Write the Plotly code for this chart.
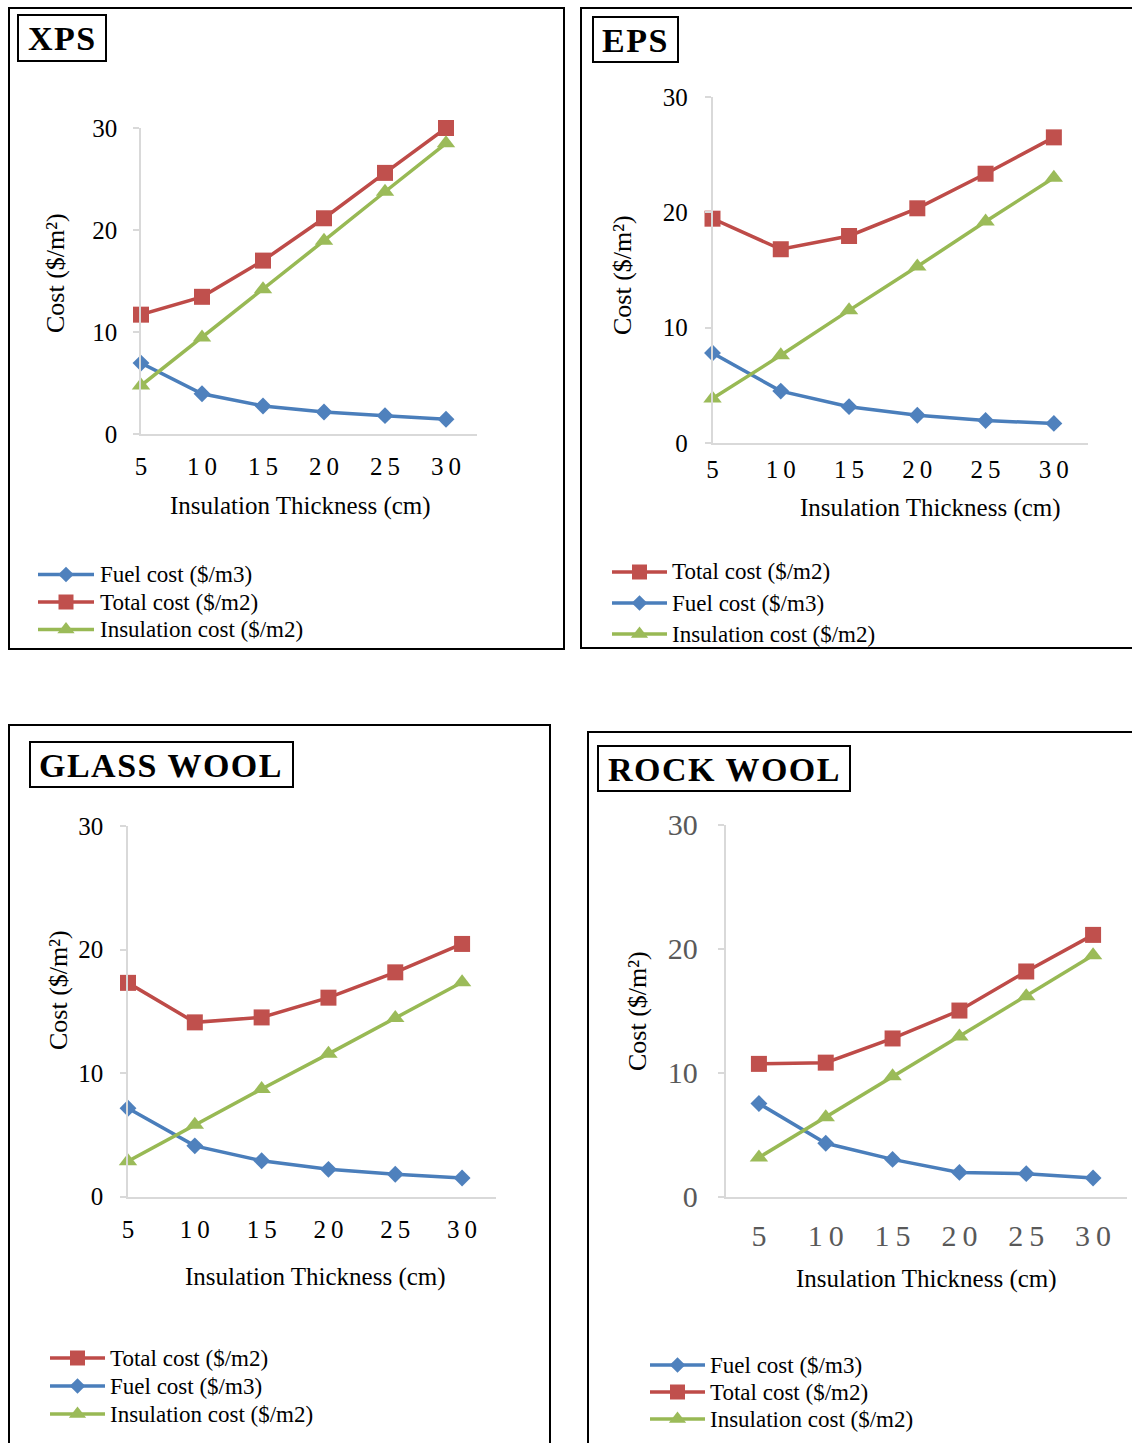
import plotly.graph_objects as go

W, H = 1132, 1443
SERIF = "Liberation Serif"

# ---------------- data ----------------
thickness = [5, 10, 15, 20, 25, 30]
thickness_labels = ["5", "1\u20090", "1\u20095", "2\u20090", "2\u20095", "3\u20090"]
cost_ticks = [0, 10, 20, 30]

xps_fuel = [6.95, 3.95, 2.75, 2.15, 1.8, 1.45]
xps_total = [11.7, 13.45, 17.0, 21.15, 25.6, 30.0]
xps_insulation = [4.75, 9.45, 14.2, 18.95, 23.75, 28.5]

eps_fuel = [7.8, 4.5, 3.15, 2.4, 1.95, 1.7]
eps_total = [19.45, 16.8, 17.95, 20.35, 23.35, 26.5]
eps_insulation = [3.85, 7.6, 11.5, 15.3, 19.2, 23.0]

glass_fuel = [7.15, 4.1, 2.9, 2.2, 1.8, 1.5]
glass_total = [17.3, 14.1, 14.5, 16.1, 18.15, 20.45]
glass_insulation = [2.85, 5.8, 8.7, 11.55, 14.45, 17.35]

rock_fuel = [7.5, 4.3, 3.0, 1.95, 1.85, 1.5]
rock_total = [10.7, 10.8, 12.75, 15.0, 18.15, 21.1]
rock_insulation = [3.15, 6.4, 9.7, 12.9, 16.15, 19.45]

series_names = {
    "fuel": "Fuel cost ($/m3)",
    "total": "Total cost ($/m2)",
    "insulation": "Insulation cost ($/m2)",
}

# ---------------- styles ----------------
STYLE = {
    "fuel": dict(line="#4A7EBB", fill="#4F81BD", symbol="diamond", size=13),
    "total": dict(line="#BE4B48", fill="#C0504D", symbol="square", size=16),
    "insulation": dict(line="#98B954", fill="#9BBB59", symbol="triangle-up", size=16),
}
AXIS_GREY = "#D9D9D9"


def px_x(v):
    return v / W


def px_y(v):
    return 1 - v / H


panels = [
    dict(title="XPS", data=dict(fuel=xps_fuel, total=xps_total, insulation=xps_insulation),
         legend=["fuel", "total", "insulation"],
         frame=(9, 8, 564, 649), tbox=(18, 15, 106, 61),
         xpx=(141, 476.5), ypx=(128, 434), xrange=(5, 32.5),
         tick_size=25, tick_color="#000000", ystand=11, xstand=9,
         xtitle=(300, 506), ytitle=(55, 273),
         leg_x=(38, 94, 98), leg_y=(574.5, 602, 629.5)),
    dict(title="EPS", data=dict(fuel=eps_fuel, total=eps_total, insulation=eps_insulation),
         legend=["total", "fuel", "insulation"],
         frame=(581, 8, 1140, 648), tbox=(593, 17, 678, 62),
         xpx=(712.5, 1088), ypx=(97, 443), xrange=(5, 32.5),
         tick_size=25, tick_color="#000000", ystand=12, xstand=3,
         xtitle=(930, 508), ytitle=(622, 275),
         leg_x=(612, 667, 670), leg_y=(572, 603, 634)),
    dict(title="GLASS WOOL", data=dict(fuel=glass_fuel, total=glass_total, insulation=glass_insulation),
         legend=["total", "fuel", "insulation"],
         frame=(9, 725, 550, 1450), tbox=(30, 742, 293, 787),
         xpx=(128, 495.5), ypx=(826, 1196.5), xrange=(5, 32.5),
         tick_size=25, tick_color="#000000", ystand=12, xstand=10,
         xtitle=(315, 1277), ytitle=(58, 990),
         leg_x=(50, 105, 108), leg_y=(1358, 1386, 1414)),
    dict(title="ROCK WOOL", data=dict(fuel=rock_fuel, total=rock_total, insulation=rock_insulation),
         legend=["fuel", "total", "insulation"],
         frame=(588, 732, 1140, 1450), tbox=(598, 746, 850, 791),
         xpx=(725.5, 1126.5), ypx=(824.5, 1196.6), xrange=(2.5, 32.5),
         tick_size=30, tick_color="#595959", ystand=14, xstand=12,
         xtitle=(926, 1279), ytitle=(637, 1011),
         leg_x=(650, 705, 708), leg_y=(1365, 1392, 1419)),
]

fig = go.Figure()
layout = dict(
    template="none",
    width=W, height=H, margin=dict(l=0, r=0, t=0, b=0, pad=0, autoexpand=False),
    paper_bgcolor="white", plot_bgcolor="rgba(0,0,0,0)",
    showlegend=False, shapes=[], annotations=[],
)

for i, p in enumerate(panels, start=1):
    xa = "x" if i == 1 else f"x{i}"
    ya = "y" if i == 1 else f"y{i}"
    xkey = "xaxis" if i == 1 else f"xaxis{i}"
    ykey = "yaxis" if i == 1 else f"yaxis{i}"

    for key in ("fuel", "total", "insulation"):
        st = STYLE[key]
        fig.add_trace(go.Scatter(
            x=thickness, y=p["data"][key], xaxis=xa, yaxis=ya,
            mode="lines+markers", name=series_names[key],
            line=dict(color=st["line"], width=3.5),
            marker=dict(symbol=st["symbol"], size=st["size"], color=st["fill"],
                        opacity=1, line=dict(width=0)),
            cliponaxis=False,
        ))

    layout[xkey] = dict(
        domain=[px_x(p["xpx"][0]), px_x(p["xpx"][1])], range=list(p["xrange"]),
        anchor=ya, showline=True, linecolor=AXIS_GREY, linewidth=1.5,
        showgrid=False, zeroline=False, ticks="", automargin=False,
        tickmode="array", tickvals=thickness, ticktext=thickness_labels,
        tickfont=dict(family=SERIF, size=p["tick_size"], color=p["tick_color"]),
        ticklabelstandoff=p["xstand"], fixedrange=True,
    )
    layout[ykey] = dict(
        domain=[px_y(p["ypx"][1]), px_y(p["ypx"][0])], range=[0, 30],
        anchor=xa, showline=True, linecolor=AXIS_GREY, linewidth=1.5,
        showgrid=False, zeroline=False, ticks="outside", ticklen=6,
        tickcolor=AXIS_GREY, tickwidth=1.5, automargin=False,
        tickmode="array", tickvals=cost_ticks,
        tickfont=dict(family=SERIF, size=p["tick_size"], color=p["tick_color"]),
        ticklabelstandoff=p["ystand"], fixedrange=True,
    )

    # panel frame and title box
    fx0, fy0, fx1, fy1 = p["frame"]
    layout["shapes"].append(dict(
        type="rect", xref="paper", yref="paper",
        x0=px_x(fx0), x1=px_x(fx1), y0=px_y(fy1), y1=px_y(fy0),
        line=dict(color="black", width=2), fillcolor="rgba(0,0,0,0)", layer="above"))
    bx0, by0, bx1, by1 = p["tbox"]
    layout["shapes"].append(dict(
        type="rect", xref="paper", yref="paper",
        x0=px_x(bx0), x1=px_x(bx1), y0=px_y(by1), y1=px_y(by0),
        line=dict(color="black", width=2), fillcolor="white", layer="above"))
    layout["annotations"].append(dict(
        xref="paper", yref="paper", x=px_x((bx0 + bx1) / 2), y=px_y((by0 + by1) / 2 + 1),
        xanchor="center", yanchor="middle", showarrow=False,
        text=f'<b><span style="letter-spacing:1.5px">{p["title"]}</span></b>',
        font=dict(family=SERIF, size=34, color="black")))

    # axis titles
    layout["annotations"].append(dict(
        xref="paper", yref="paper", x=px_x(p["xtitle"][0]), y=px_y(p["xtitle"][1]),
        xanchor="center", yanchor="middle", showarrow=False,
        text="Insulation Thickness (cm)",
        font=dict(family=SERIF, size=25, color="black")))
    layout["annotations"].append(dict(
        xref="paper", yref="paper", x=px_x(p["ytitle"][0]), y=px_y(p["ytitle"][1]),
        xanchor="center", yanchor="middle", showarrow=False, textangle=-90,
        text="Cost ($/m\u00b2)",
        font=dict(family=SERIF, size=26, color="black")))

    # legend entries: sample line, centred marker, label
    lx0, lx1, tx = p["leg_x"]
    for key, ly in zip(p["legend"], p["leg_y"]):
        st = STYLE[key]
        fig.add_trace(go.Scatter(
            x=[lx0, lx1], y=[ly, ly], xaxis="x5", yaxis="y5",
            mode="lines", hoverinfo="skip",
            line=dict(color=st["line"], width=3.5), cliponaxis=False,
        ))
        fig.add_trace(go.Scatter(
            x=[(lx0 + lx1) / 2], y=[ly], xaxis="x5", yaxis="y5",
            mode="markers", hoverinfo="skip",
            marker=dict(symbol=st["symbol"], size=st["size"] - 1, color=st["fill"],
                        opacity=1, line=dict(width=0)),
            cliponaxis=False,
        ))
        layout["annotations"].append(dict(
            xref="paper", yref="paper", x=px_x(tx), y=px_y(ly),
            xanchor="left", yanchor="middle", showarrow=False,
            text=series_names[key],
            font=dict(family=SERIF, size=23, color="black")))

# full-page overlay used to place the legend samples in pixel units
layout["xaxis5"] = dict(domain=[0, 1], range=[0, W], visible=False, fixedrange=True,
                        anchor="y5", automargin=False)
layout["yaxis5"] = dict(domain=[0, 1], range=[H, 0], visible=False, fixedrange=True,
                        anchor="x5", automargin=False)

fig.update_layout(**layout)
fig.write_html("out.html")
